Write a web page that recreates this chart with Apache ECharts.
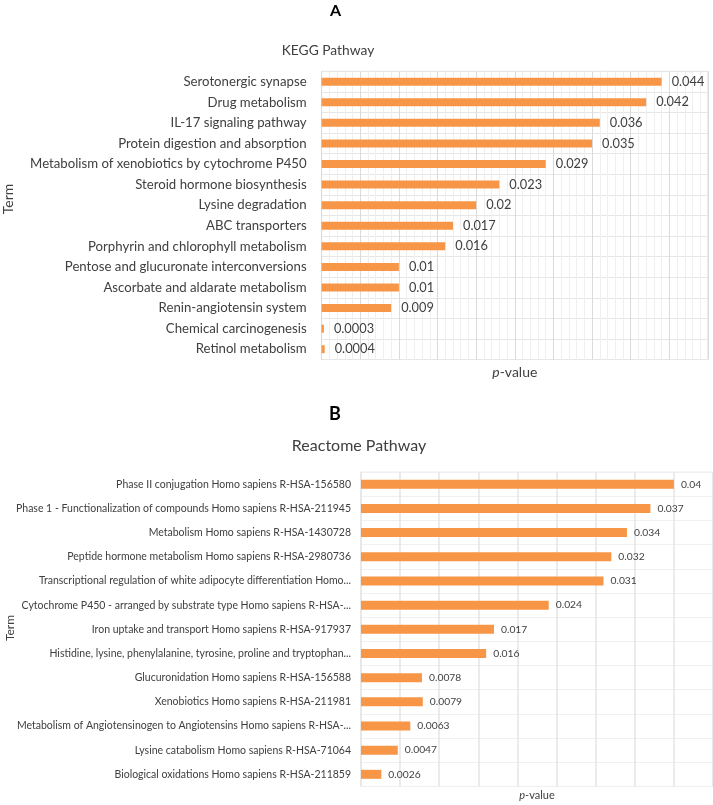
<!DOCTYPE html>
<html>
<head>
<meta charset="utf-8">
<script src="https://cdn.jsdelivr.net/npm/echarts@6/dist/echarts.min.js"></script>
<style>
html,body{margin:0;padding:0;background:#fff;}
#chart{width:713px;height:805px;}
</style>
</head>
<body>
<div id="chart"></div>
<script>
const keggTerms = [
  'Serotonergic synapse',
  'Drug metabolism',
  'IL-17 signaling pathway',
  'Protein digestion and absorption',
  'Metabolism of xenobiotics by cytochrome P450',
  'Steroid hormone biosynthesis',
  'Lysine degradation',
  'ABC transporters',
  'Porphyrin and chlorophyll metabolism',
  'Pentose and glucuronate interconversions',
  'Ascorbate and aldarate metabolism',
  'Renin-angiotensin system',
  'Chemical carcinogenesis',
  'Retinol metabolism'
];
const keggValues = [0.044, 0.042, 0.036, 0.035, 0.029, 0.023, 0.02, 0.017, 0.016, 0.01, 0.01, 0.009, 0.0003, 0.0004];

const reactomeTerms = [
  'Phase II conjugation Homo sapiens R-HSA-156580',
  'Phase 1 - Functionalization of compounds Homo sapiens R-HSA-211945',
  'Metabolism Homo sapiens R-HSA-1430728',
  'Peptide hormone metabolism Homo sapiens R-HSA-2980736',
  'Transcriptional regulation of white adipocyte differentiation Homo...',
  'Cytochrome P450 - arranged by substrate type Homo sapiens R-HSA-...',
  'Iron uptake and transport Homo sapiens R-HSA-917937',
  'Histidine, lysine, phenylalanine, tyrosine, proline and tryptophan...',
  'Glucuronidation Homo sapiens R-HSA-156588',
  'Xenobiotics Homo sapiens R-HSA-211981',
  'Metabolism of Angiotensinogen to Angiotensins Homo sapiens R-HSA-...',
  'Lysine catabolism Homo sapiens R-HSA-71064',
  'Biological oxidations Homo sapiens R-HSA-211859'
];
const reactomeValues = [0.04, 0.037, 0.034, 0.032, 0.031, 0.024, 0.017, 0.016, 0.0078, 0.0079, 0.0063, 0.0047, 0.0026];

const panelTitles = ['A', 'B'];
const chartTitles = ['KEGG Pathway', 'Reactome Pathway'];
const axisNameX = '{i|p}-value';
const axisNameY = 'Term';

const FONT = 'Lato';
const TXT = '#404040';
const ORANGE = '#F79646';

const chart = echarts.init(document.getElementById('chart'), null, {renderer: 'canvas'});

chart.setOption({
  backgroundColor: '#ffffff',
  animation: false,
  textStyle: {fontFamily: FONT},
  title: [
    {text: panelTitles[0], left: 335.5, top: 3, textAlign: 'center', padding: 0,
     textStyle: {fontFamily: FONT, fontSize: 16, fontWeight: 'bold', color: '#000'}},
    {text: chartTitles[0], left: 328, top: 44, textAlign: 'center', padding: 0,
     textStyle: {fontFamily: FONT, fontSize: 13.8, fontWeight: 'normal', color: TXT}},
    {text: panelTitles[1], left: 335, top: 405, textAlign: 'center', padding: 0,
     textStyle: {fontFamily: FONT, fontSize: 18, fontWeight: 'bold', color: '#000'}},
    {text: chartTitles[1], left: 359, top: 438, textAlign: 'center', padding: 0,
     textStyle: {fontFamily: FONT, fontSize: 16, fontWeight: 'normal', color: TXT}}
  ],
  graphic: [
    {type: 'text', x: 8.3, y: 199, rotation: Math.PI / 2,
     style: {text: axisNameY, fontFamily: FONT, fontSize: 14, fill: TXT, align: 'center', verticalAlign: 'middle'}},
    {type: 'text', x: 10, y: 628, rotation: Math.PI / 2,
     style: {text: axisNameY, fontFamily: FONT, fontSize: 12, fill: TXT, align: 'center', verticalAlign: 'middle'}}
  ],
  grid: [
    {left: 321.6, top: 71.4, width: 386.4, height: 288.1, show: true, borderColor: '#d9d9d9', borderWidth: 1, containLabel: false},
    {left: 361, top: 472.2, width: 360, height: 314.2, show: true, borderColor: '#e4e4e4', borderWidth: 1, containLabel: false}
  ],
  xAxis: [
    {type: 'value', gridIndex: 0, min: 0, max: 0.05, interval: 0.005,
     axisLabel: {show: false}, axisLine: {show: false}, axisTick: {show: false},
     splitLine: {show: true, lineStyle: {color: '#dadada', width: 1}},
     minorTick: {show: false, splitNumber: 5},
     minorSplitLine: {show: true, lineStyle: {color: '#efefef', width: 1}},
     name: axisNameX, nameLocation: 'middle', nameGap: 6,
     nameTextStyle: {fontFamily: FONT, fontSize: 14, color: TXT, verticalAlign: 'top',
       rich: {i: {fontStyle: 'italic', fontFamily: FONT, fontSize: 14, color: TXT}}}},
    {type: 'value', gridIndex: 1, min: 0, max: 0.045, interval: 0.005,
     axisLabel: {show: false}, axisLine: {show: false}, axisTick: {show: false},
     splitLine: {show: true, lineStyle: {color: '#e4e4e4', width: 1.5}},
     name: axisNameX, nameLocation: 'middle', nameGap: 4,
     nameTextStyle: {fontFamily: FONT, fontSize: 11, color: TXT, verticalAlign: 'top',
       rich: {i: {fontStyle: 'italic', fontFamily: FONT, fontSize: 11, color: TXT}}}}
  ],
  yAxis: [
    {type: 'category', gridIndex: 0, data: keggTerms, inverse: true,
     axisLine: {show: false}, axisTick: {show: false},
     axisLabel: {fontFamily: FONT, fontSize: 13.2, color: TXT, margin: 15},
     splitLine: {show: true, lineStyle: {color: '#e6e6e6', width: 1}}},
    {type: 'category', gridIndex: 1, data: reactomeTerms, inverse: true,
     axisLine: {show: false}, axisTick: {show: false},
     axisLabel: {fontFamily: FONT, fontSize: 10.5, color: TXT, margin: 10},
     splitLine: {show: true, lineStyle: {color: '#f0f0f0', width: 1}}}
  ],
  series: [
    {type: 'bar', xAxisIndex: 0, yAxisIndex: 0, data: keggValues, barWidth: 8,
     itemStyle: {color: ORANGE},
     label: {show: true, position: 'right', distance: 10, fontFamily: FONT, fontSize: 12.8, color: TXT}},
    {type: 'bar', xAxisIndex: 1, yAxisIndex: 1, data: reactomeValues, barWidth: 9,
     itemStyle: {color: ORANGE},
     label: {show: true, position: 'right', distance: 7, fontFamily: FONT, fontSize: 10.3, color: TXT}}
  ]
});
</script>
</body>
</html>
